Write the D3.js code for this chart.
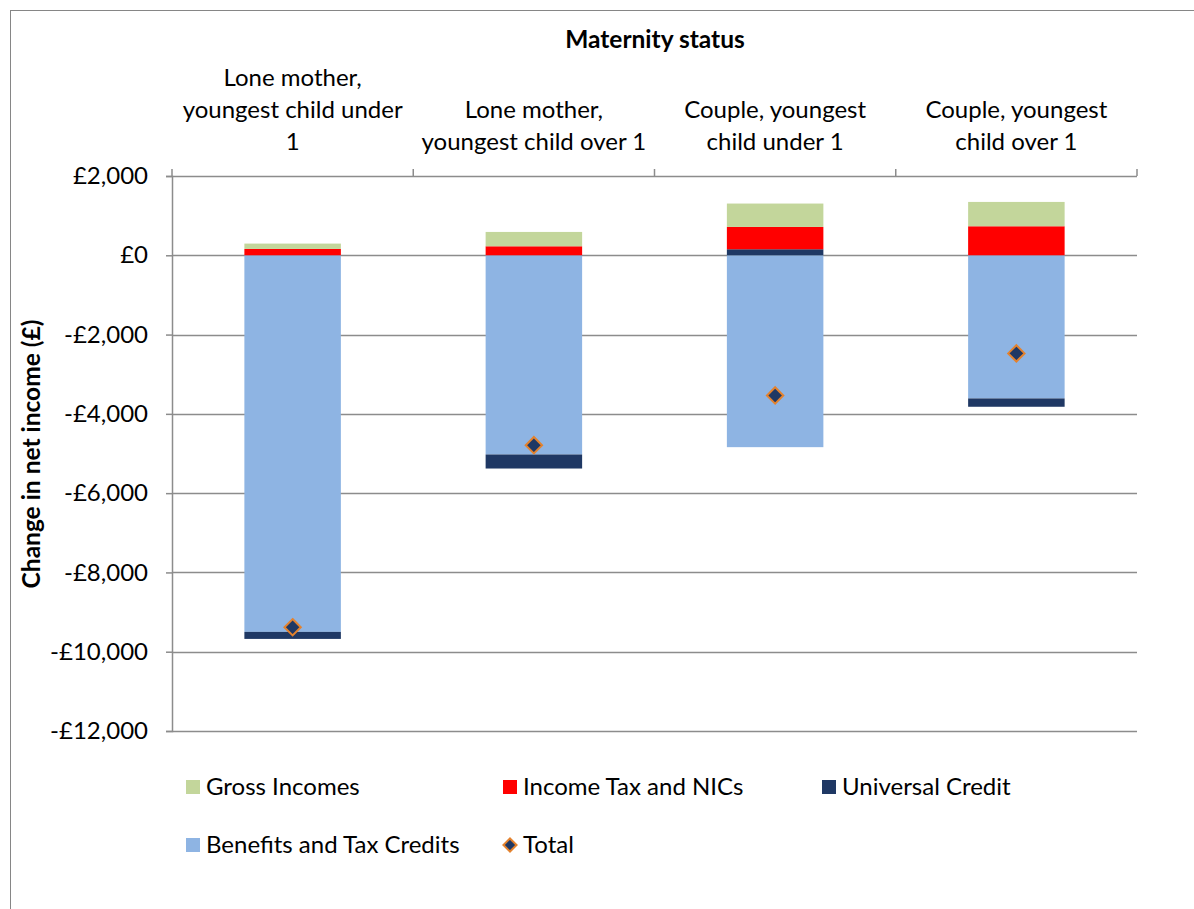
<!DOCTYPE html>
<html>
<head>
<meta charset="utf-8">
<script src="https://cdn.jsdelivr.net/npm/d3@7/dist/d3.min.js"></script>
<style>
  html, body { margin: 0; padding: 0; background: #fff; }
  svg { display: block; font-family: Lato, "Open Sans", sans-serif; }
</style>
</head>
<body>
<svg id="chart" width="1194" height="909"></svg>
<script>
// Household groups by maternity status
const categories = [
  ["Lone mother,", "youngest child under", "1"],
  ["Lone mother,", "youngest child over 1"],
  ["Couple, youngest", "child under 1"],
  ["Couple, youngest", "child over 1"]
];
// Change in net income components (£)
const grossIncomes     = [135, 362, 590, 614];
const incomeTaxNICs    = [160, 227, 563, 732];
const universalCredit  = [-177, -354, 152, -210];
const benefitsCredits  = [-9500, -5025, -4840, -3611];
const total            = [-9382, -4790, -3535, -2475];
const yTicks = [2000, 0, -2000, -4000, -6000, -8000, -10000, -12000];

const colors = {
  benefits: "#8EB4E3",
  uc: "#1F3864",
  tax: "#FF0000",
  gross: "#C3D69B"
};

const rows = categories.map((c, i) => ({
  idx: i,
  gross: grossIncomes[i],
  tax: incomeTaxNICs[i],
  uc: universalCredit[i],
  benefits: benefitsCredits[i],
  total: total[i]
}));

const FS = 24;       // regular text size
const FS_BOLD = 24.5;  // axis title size

const svg = d3.select("#chart");
const plotL = 172, plotR = 1137, plotT = 176, plotB = 731;

const x = d3.scaleBand().domain(rows.map(d => d.idx)).range([plotL, plotR]).paddingInner(0.6).paddingOuter(0.3);
const xBand = d3.scaleBand().domain(rows.map(d => d.idx)).range([plotL, plotR]);
const y = d3.scaleLinear().domain([-12000, 2000]).range([plotB, plotT]);

// outer frame
svg.append("rect").attr("x", 10.5).attr("y", 10.5).attr("width", 1200).attr("height", 1000)
  .attr("fill", "none").attr("stroke", "#868686").attr("stroke-width", 1);

// horizontal gridlines
svg.append("g").selectAll("line").data(yTicks).join("line")
  .attr("x1", plotL).attr("x2", plotR)
  .attr("y1", d => Math.round(y(d)) + 0.5).attr("y2", d => Math.round(y(d)) + 0.5)
  .attr("stroke", "#8c8c8c").attr("stroke-width", 1.5);

// y axis
const yAxis = svg.append("g").attr("transform", `translate(${plotL},0)`)
  .call(d3.axisLeft(y).tickValues(yTicks).tickSize(6).tickPadding(18)
    .tickFormat(d => (d < 0 ? "-£" : "£") + d3.format(",")(Math.abs(d))));
yAxis.select(".domain").attr("stroke", "#8c8c8c").attr("stroke-width", 1.5);
yAxis.selectAll(".tick line").attr("stroke", "#8c8c8c").attr("stroke-width", 1.5);
yAxis.selectAll(".tick text").attr("font-size", FS).attr("fill", "#000").attr("font-family", "Lato, sans-serif");

// category ticks along the top
const catTicks = rows.map(d => xBand(d.idx) + xBand.bandwidth()).concat([plotL]);
svg.append("g").selectAll("line").data(catTicks).join("line")
  .attr("x1", d => d).attr("x2", d => d)
  .attr("y1", plotT - 7).attr("y2", plotT)
  .attr("stroke", "#8c8c8c").attr("stroke-width", 1.5);

// stacked bars (diverging)
const keys = ["benefits", "uc", "tax", "gross"];
const series = d3.stack().keys(keys).offset(d3.stackOffsetDiverging)(rows);
svg.append("g").selectAll("g").data(series).join("g")
  .attr("fill", s => colors[s.key])
  .selectAll("rect").data(s => s).join("rect")
  .attr("x", d => x(d.data.idx))
  .attr("width", x.bandwidth())
  .attr("y", d => y(Math.max(d[0], d[1])))
  .attr("height", d => Math.abs(y(d[0]) - y(d[1])));

// total markers
const diamond = d3.symbol().type(d3.symbolDiamond2).size(170);
svg.append("g").selectAll("path").data(rows).join("path")
  .attr("d", diamond)
  .attr("transform", d => `translate(${x(d.idx) + x.bandwidth() / 2},${y(d.total)})`)
  .attr("fill", "#1F3864").attr("stroke", "#E3822E").attr("stroke-width", 2);

// category labels
const catG = svg.append("g");
rows.forEach((d, i) => {
  const lines = categories[i];
  const cx = xBand(d.idx) + xBand.bandwidth() / 2;
  const startY = lines.length === 3 ? 86 : 118;
  lines.forEach((t, j) => {
    catG.append("text").attr("x", cx).attr("y", startY + j * 32)
      .attr("text-anchor", "middle").attr("font-size", FS).attr("fill", "#000").text(t);
  });
});

// axis titles
svg.append("text").attr("x", 655).attr("y", 48).attr("text-anchor", "middle")
  .attr("font-size", FS_BOLD).attr("font-weight", "bold").text("Maternity status");
svg.append("text").attr("transform", "translate(40,454) rotate(-90)").attr("text-anchor", "middle")
  .attr("font-size", FS_BOLD).attr("font-weight", "bold").text("Change in net income (£)");

// legend
const legend = [
  { label: "Gross Incomes", key: "gross", x: 186, y: 787 },
  { label: "Income Tax and NICs", key: "tax", x: 503, y: 787 },
  { label: "Universal Credit", key: "uc", x: 822, y: 787 },
  { label: "Benefits and Tax Credits", key: "benefits", x: 186, y: 845 },
  { label: "Total", key: "total", x: 503, y: 845 }
];
const lg = svg.append("g");
legend.forEach(l => {
  if (l.key === "total") {
    lg.append("path").attr("d", d3.symbol().type(d3.symbolDiamond2).size(110))
      .attr("transform", `translate(${l.x + 7},${l.y})`)
      .attr("fill", "#1F3864").attr("stroke", "#E3822E").attr("stroke-width", 2);
  } else {
    lg.append("rect").attr("x", l.x).attr("y", l.y - 7).attr("width", 14).attr("height", 14)
      .attr("fill", colors[l.key]);
  }
  lg.append("text").attr("x", l.x + 20).attr("y", l.y + 8).attr("font-size", FS).attr("fill", "#000").text(l.label);
});
</script>
</body>
</html>
